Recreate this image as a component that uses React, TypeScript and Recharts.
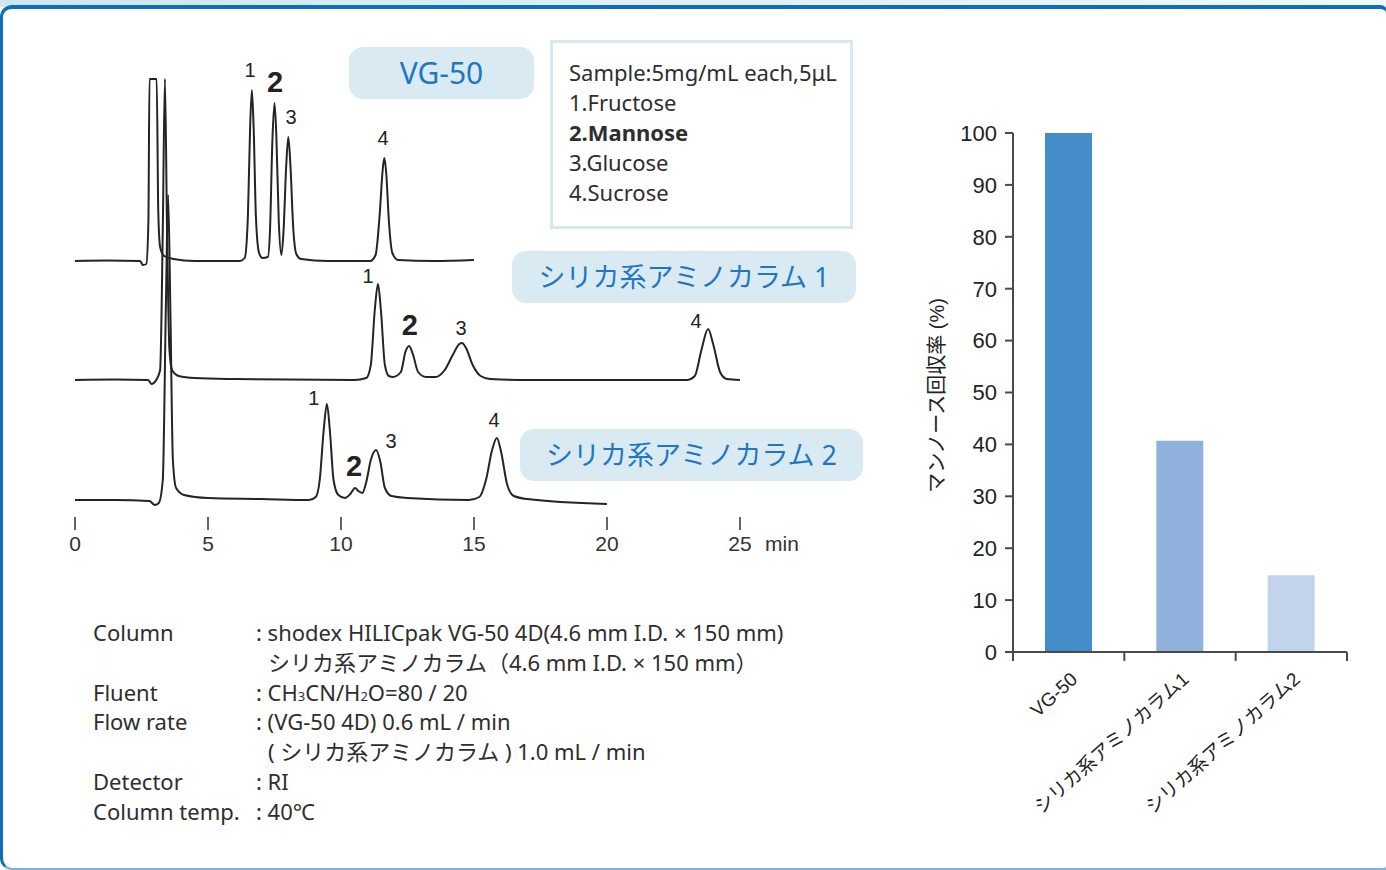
import React from "react";
import {
  Bar,
  BarChart,
  Cell,
  ComposedChart,
  Line,
  Scatter,
  XAxis,
  YAxis,
} from "recharts";

// --- chromatograms: [time (min), RI signal above the trace's own baseline] ---
const VG50_TRACE: [number, number][] = [
  [0, 0], [1.2, 0.5], [2.45, 0], [2.55, -4], [2.68, -3], [2.76, 40], [2.8, 182],
  [3.07, 182], [3.13, 50], [3.2, 14], [3.35, 5], [3.7, 2], [4.5, 0], [6.2, 0],
  [6.38, 3], [6.5, 45], [6.58, 130], [6.65, 171], [6.72, 130], [6.8, 45],
  [6.92, 8], [7.05, 3], [7.25, 4], [7.33, 30], [7.42, 120], [7.5, 158],
  [7.57, 125], [7.66, 40], [7.76, 6], [7.84, 30], [7.94, 95], [8.02, 124],
  [8.1, 95], [8.2, 35], [8.32, 7], [8.5, 2], [9.5, 0], [11.1, 0], [11.3, 6],
  [11.45, 45], [11.57, 92], [11.63, 103], [11.7, 88], [11.8, 40], [11.93, 8],
  [12.15, 1], [13.5, 0], [15.0, 1],
];

const AMINO1_TRACE: [number, number][] = [
  [0, 0], [1.5, 0.5], [2.75, 0], [2.88, -4], [3.0, -2], [3.2, 10], [3.3, 150],
  [3.38, 301], [3.46, 150], [3.55, 30], [3.65, 10], [3.9, 4], [4.5, 2], [6, 1],
  [10.5, 0], [10.95, 2], [11.12, 15], [11.27, 70], [11.39, 96], [11.5, 70],
  [11.65, 15], [11.8, 4], [11.95, 3], [12.25, 8], [12.42, 28], [12.56, 34],
  [12.7, 26], [12.9, 8], [13.2, 3], [13.55, 3], [13.9, 10], [14.2, 25],
  [14.45, 36], [14.55, 37], [14.7, 32], [14.95, 15], [15.25, 4], [15.6, 1],
  [17, 0], [23.0, 0], [23.3, 4], [23.55, 30], [23.8, 51], [24.0, 35],
  [24.25, 8], [24.5, 1], [25, 0],
];

const AMINO2_TRACE: [number, number][] = [
  [0, 0], [1.5, 0], [2.8, -1], [3.0, -5], [3.15, -3], [3.3, 20], [3.42, 200],
  [3.5, 305], [3.58, 200], [3.68, 40], [3.8, 12], [4.1, 5], [5, 2], [7, 1],
  [8.8, 0], [9.05, 3], [9.2, 20], [9.35, 70], [9.47, 96], [9.58, 70],
  [9.72, 20], [9.9, 5], [10.15, 2], [10.35, 6], [10.53, 12], [10.65, 9],
  [10.8, 7], [10.95, 18], [11.12, 40], [11.32, 50], [11.48, 38], [11.65, 12],
  [11.9, 4], [12.5, 2], [14.8, 0], [15.2, 3], [15.45, 20], [15.68, 50],
  [15.86, 62], [16.02, 48], [16.25, 15], [16.5, 4], [17, 1], [20, -4],
];

// peak numbers: [time, height above baseline, text]
const VG50_PEAKS: [number, number, string][] = [
  [6.58, 191, "1"], [7.52, 179, "2"], [8.12, 144, "3"], [11.58, 123, "4"],
];
const AMINO1_PEAKS: [number, number, string][] = [
  [11.02, 104, "1"], [12.59, 55, "2"], [14.51, 52, "3"], [23.35, 59, "4"],
];
const AMINO2_PEAKS: [number, number, string][] = [
  [8.98, 102, "1"], [10.49, 34, "2"], [11.88, 59, "3"], [15.75, 80, "4"],
];

const TIME_TICKS = [0, 5, 10, 15, 20, 25];

// vertical stacking of the three traces (signal units)
const STACK_OFFSETS = [256, 137, 17];
const SIGNAL_MAX = 457;

// --- recovery bar chart ---
const COLUMNS = ["VG-50", "シリカ系アミノカラム1", "シリカ系アミノカラム2"];
const RECOVERY = [100, 40.7, 14.8];
const BAR_COLORS = ["#448dca", "#8fb1dc", "#c2d3ec"];
const RECOVERY_TICKS = [0, 10, 20, 30, 40, 50, 60, 70, 80, 90, 100];

const SAMPLE_LINES = [
  "Sample:5mg/mL each,5μL",
  "1.Fructose",
  "2.Mannose",
  "3.Glucose",
  "4.Sucrose",
];

const ARIAL = "'Liberation Sans', Arial, 'Noto Sans CJK JP', sans-serif";
const INK = "#242424";
const BOX_BLUE = "#d9eaf3";
const TEXT_BLUE = "#1f78bf";

const traces = [VG50_TRACE, AMINO1_TRACE, AMINO2_TRACE].map((trace, i) =>
  trace.map(([t, s]) => ({ t, v: s + STACK_OFFSETS[i] }))
);

const peakLabels = [VG50_PEAKS, AMINO1_PEAKS, AMINO2_PEAKS].flatMap((peaks, i) =>
  peaks.map(([t, h, text]) => ({ t, v: h + STACK_OFFSETS[i], text }))
);

const barData = COLUMNS.map((name, i) => ({ name, value: RECOVERY[i] }));

const BAR_PLOT_WIDTH = 334;
const BAND = BAR_PLOT_WIDTH / COLUMNS.length;

function renderTimeTick(props: any) {
  const { x, y, payload } = props;
  return (
    <g>
      <text x={x} y={y} dy="0.71em" textAnchor="middle" fontSize={21} fontFamily={ARIAL} fill="#333">
        {payload.value}
      </text>
      {payload.value === 25 && (
        <text x={x + 25} y={y} dy="0.71em" textAnchor="start" fontSize={21} fontFamily={ARIAL} fill="#333">
          min
        </text>
      )}
    </g>
  );
}

function renderPeakLabel(props: any) {
  const { cx, cy, payload } = props;
  if (cx == null || cy == null || payload == null) return null;
  const bold = payload.text === "2";
  return (
    <text
      x={cx}
      y={cy}
      textAnchor="middle"
      dominantBaseline="central"
      fontSize={bold ? 29 : 20}
      fontWeight={bold ? 700 : 400}
      fontFamily={ARIAL}
      fill="#222"
    >
      {payload.text}
    </text>
  );
}

function renderColumnTick(props: any) {
  const { x, y, payload, index } = props;
  const lx = x + 10;
  const ly = y + 29;
  return (
    <g>
      <line x1={x - BAND / 2} x2={x - BAND / 2} y1={y} y2={y + 9} stroke="#4a4a4a" strokeWidth={2} />
      {index === COLUMNS.length - 1 && (
        <line x1={x + BAND / 2} x2={x + BAND / 2} y1={y} y2={y + 9} stroke="#4a4a4a" strokeWidth={2} />
      )}
      <text
        x={lx}
        y={ly}
        textAnchor="end"
        transform={`rotate(-42 ${lx} ${ly})`}
        fontSize={19}
        fontFamily={ARIAL}
        fill="#222"
      >
        {payload.value}
      </text>
    </g>
  );
}

function renderRecoveryLabel(props: any) {
  const { viewBox } = props;
  if (!viewBox) return null;
  const lx = viewBox.x - 16;
  const ly = viewBox.y + viewBox.height / 2 + 3;
  return (
    <text
      x={lx}
      y={ly}
      textAnchor="middle"
      dominantBaseline="central"
      transform={`rotate(-90 ${lx} ${ly})`}
      fontSize={20}
      fontFamily={ARIAL}
      fill="#222"
    >
      マンノース回収率 (%)
    </text>
  );
}

function ColumnTag({
  left,
  top,
  width,
  text,
  fontSize = 27,
}: {
  left: number;
  top: number;
  width: number;
  text: string;
  fontSize?: number;
}) {
  return (
    <div
      style={{
        position: "absolute",
        left,
        top,
        width,
        height: 52,
        borderRadius: 14,
        background: BOX_BLUE,
        color: TEXT_BLUE,
        fontSize,
        lineHeight: "52px",
        textAlign: "center",
        fontFamily: "'Noto Sans', 'Noto Sans CJK JP', sans-serif",
      }}
    >
      {text}
    </div>
  );
}

const condRow = (label: string, value: React.ReactNode, indent = false) => (
  <div style={{ display: "flex", height: 29.8, lineHeight: "29.8px" }}>
    <div style={{ width: 163, flex: "none" }}>{label}</div>
    <div style={{ paddingLeft: indent ? 12 : 0, whiteSpace: "nowrap" }}>{value}</div>
  </div>
);

const small = (s: string) => <span style={{ fontSize: 13 }}>{s}</span>;

export default function App() {
  return (
    <div
      style={{
        position: "fixed",
        left: 0,
        top: 0,
        width: 1386,
        height: 870,
        overflow: "hidden",
        background: "#fff",
        fontFamily: "'Noto Sans', 'Noto Sans CJK JP', sans-serif",
        color: "#333",
      }}
    >
      <div
        style={{
          position: "absolute",
          left: 0,
          top: 0,
          width: 1386,
          height: 7,
          background: "linear-gradient(90deg, #cde6f2, #f2f9fc)",
        }}
      />
      <div
        style={{
          position: "absolute",
          left: 0,
          top: 5,
          width: 1388,
          height: 865,
          boxSizing: "border-box",
          background: "#fff",
          borderTop: "4px solid #0b6fbe",
          borderLeft: "3px solid #0b6fbe",
          borderRight: "2px solid #0b6fbe",
          borderBottom: "2px solid #7cb3dc",
          borderRadius: "12px 8px 4px 12px",
        }}
      />

      <div style={{ position: "absolute", left: 0, top: 0 }}>
        <ComposedChart width={800} height={560} margin={{ top: 60, right: 60, bottom: 13, left: 75 }}>
          <XAxis
            type="number"
            dataKey="t"
            domain={[0, 25]}
            ticks={TIME_TICKS}
            height={30}
            axisLine={false}
            tickSize={13}
            tickMargin={6}
            tickLine={{ stroke: "#333", strokeWidth: 1.5 }}
            tick={renderTimeTick}
            allowDataOverflow
          />
          <YAxis hide type="number" dataKey="v" domain={[0, SIGNAL_MAX]} />
          {traces.map((data, i) => (
            <Line
              key={i}
              data={data}
              dataKey="v"
              type="monotone"
              stroke={INK}
              strokeWidth={2}
              dot={false}
              activeDot={false}
              isAnimationActive={false}
            />
          ))}
          <Scatter data={peakLabels} dataKey="v" shape={renderPeakLabel} isAnimationActive={false} />
        </ComposedChart>
      </div>

      <ColumnTag left={349} top={47} width={185} text="VG-50" fontSize={30} />
      <ColumnTag left={512} top={251} width={344} text="シリカ系アミノカラム 1" />
      <ColumnTag left={520} top={429} width={343} text="シリカ系アミノカラム 2" />

      <div
        style={{
          position: "absolute",
          left: 550,
          top: 40,
          width: 303,
          height: 189,
          boxSizing: "border-box",
          border: "3px solid #d5e8f3",
          background: "#fff",
          paddingLeft: 16,
          paddingTop: 14,
          fontSize: 22,
          lineHeight: "30px",
          color: "#2e2e2e",
        }}
      >
        {SAMPLE_LINES.map((line) => (
          <div key={line} style={{ fontWeight: line.startsWith("2.") ? 700 : 400, whiteSpace: "nowrap" }}>
            {line}
          </div>
        ))}
      </div>

      <div style={{ position: "absolute", left: 93, top: 618, fontSize: 22, color: "#2e2e2e" }}>
        {condRow("Column", ": shodex HILICpak VG-50 4D(4.6 mm I.D. × 150 mm)")}
        {condRow("", "シリカ系アミノカラム（4.6 mm I.D. × 150 mm）", true)}
        {condRow("Fluent", <>: CH{small("3")}CN/H{small("2")}O=80 / 20</>)}
        {condRow("Flow rate", ": (VG-50 4D) 0.6 mL / min")}
        {condRow("", "( シリカ系アミノカラム ) 1.0 mL / min", true)}
        {condRow("Detector", ": RI")}
        {condRow("Column temp.", ": 40℃")}
      </div>

      <div style={{ position: "absolute", left: 880, top: 110 }}>
        <BarChart width={490} height={730} data={barData} margin={{ top: 23, right: 23, bottom: 148, left: 73 }}>
          <XAxis
            dataKey="name"
            type="category"
            height={40}
            interval={0}
            tickLine={false}
            tickSize={0}
            tickMargin={0}
            axisLine={{ stroke: "#4a4a4a", strokeWidth: 2 }}
            tick={renderColumnTick}
          />
          <YAxis
            type="number"
            domain={[0, 100]}
            ticks={RECOVERY_TICKS}
            width={60}
            tickSize={8}
            tickMargin={8}
            axisLine={{ stroke: "#4a4a4a", strokeWidth: 2 }}
            tickLine={{ stroke: "#4a4a4a", strokeWidth: 2 }}
            tick={{ fontSize: 22, fill: "#222", fontFamily: ARIAL }}
            label={renderRecoveryLabel}
          />
          <Bar dataKey="value" barSize={47} isAnimationActive={false}>
            {barData.map((d, i) => (
              <Cell key={d.name} fill={BAR_COLORS[i]} />
            ))}
          </Bar>
        </BarChart>
      </div>
    </div>
  );
}
